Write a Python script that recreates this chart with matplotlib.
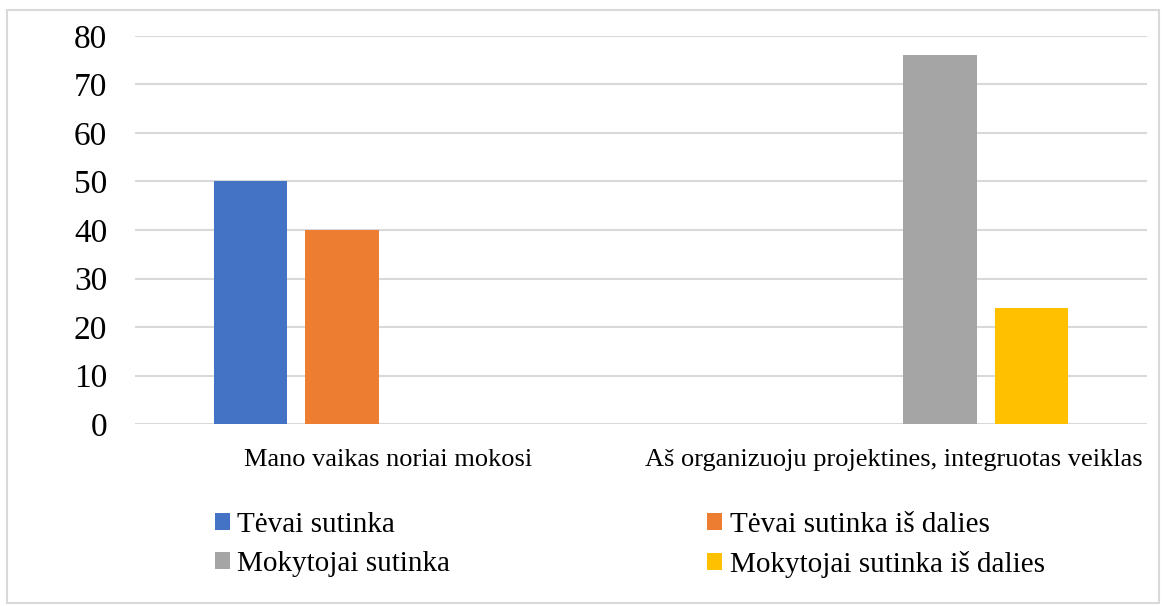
import matplotlib
matplotlib.use("Agg")
import matplotlib.pyplot as plt
from matplotlib.patches import Rectangle
import numpy as np

categories = ["Mano vaikas noriai mokosi", "Aš organizuoju projektines, integruotas veiklas"]
series_names = ["Tėvai sutinka", "Tėvai sutinka iš dalies", "Mokytojai sutinka", "Mokytojai sutinka iš dalies"]
values = [
    [50, 0],   # Tėvai sutinka
    [40, 0],   # Tėvai sutinka iš dalies
    [0, 76],   # Mokytojai sutinka
    [0, 24],   # Mokytojai sutinka iš dalies
]
colors = ["#4472C4", "#ED7D31", "#A5A5A5", "#FFC000"]
yticks = [0, 10, 20, 30, 40, 50, 60, 70, 80]

plt.rcParams['font.family'] = ['Liberation Serif', 'DejaVu Serif']

W, H = 1163, 606
fig = plt.figure(figsize=(W / 100, H / 100), dpi=100)
ax = fig.add_axes([135 / W, 1 - 424 / H, (1147 - 135) / W, (424 - 36) / H])

x = np.arange(len(categories))
bw = 0.1443
step = 0.1818
for i, (name, vals, c) in enumerate(zip(series_names, values, colors)):
    ax.bar(x + (i - 1.5) * step, vals, width=bw, color=c, label=name, zorder=3)

ax.set_xlim(-0.5, 1.5)
ax.set_ylim(0, 80)
ax.set_yticks(yticks)
ax.set_yticklabels([str(t) for t in yticks], fontsize=24)
ax.set_xticks(x)
ax.set_xticklabels(categories, fontsize=19)
ax.tick_params(axis='both', length=0)
ax.tick_params(axis='y', pad=20)
ax.tick_params(axis='x', pad=18)
ax.grid(axis='y', color='#D9D9D9', linewidth=1.5, zorder=0)
for s in ax.spines.values():
    s.set_visible(False)

handles, labels = ax.get_legend_handles_labels()
order = [0, 2, 1, 3]
leg = fig.legend([handles[i] for i in order], [labels[i] for i in order],
                 ncol=2, loc='upper left',
                 bbox_to_anchor=(215 / W, 1 - 512 / H), frameon=False,
                 borderpad=0, borderaxespad=0,
                 fontsize=21, handlelength=0.52, handleheight=0.52,
                 handletextpad=0.25, columnspacing=8.8, labelspacing=0.44)

fig.patches.append(Rectangle((7 / W, 1 - 603 / H), (1159 - 7) / W, (603 - 10) / H,
                             transform=fig.transFigure, fill=False,
                             edgecolor='#D9D9D9', linewidth=1.5))

fig.savefig("out.png", dpi=100, facecolor='white')
